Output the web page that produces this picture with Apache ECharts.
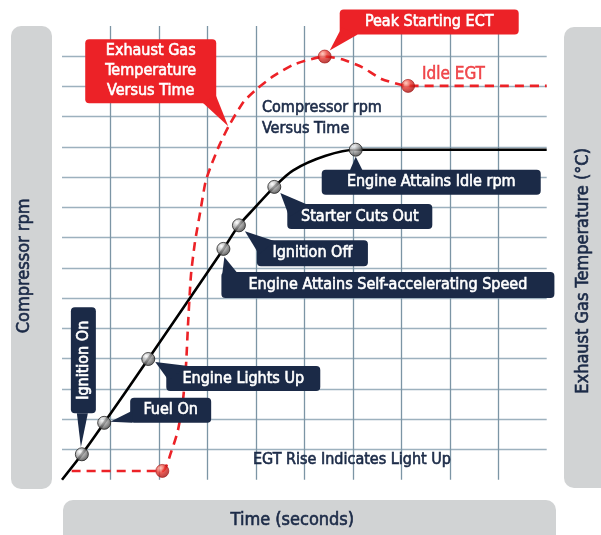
<!DOCTYPE html>
<html>
<head>
<meta charset="utf-8">
<script src="https://cdn.jsdelivr.net/npm/echarts@6/dist/echarts.min.js"></script>
<style>
  html, body { margin: 0; padding: 0; background: #fff; }
  #chart { width: 601px; height: 535px; }
</style>
</head>
<body>
<div id="chart"></div>
<script>
// compressor rpm versus time (grid units)
const rpmTime  = [0, 0.41, 0.87, 1.78, 3.33, 3.65, 3.96, 4.38, 4.77, 5.44, 6.06, 10];
const rpmValue = [0, 0.84, 1.88, 3.99, 7.63, 8.41, 8.96, 9.68, 10.23, 10.71, 10.91, 10.91];

// exhaust gas temperature versus time (grid units)
const egtTime  = [0.2, 2.07, 2.25, 2.39, 2.49, 2.56, 2.60, 2.66, 2.74, 2.86, 2.96, 3.06, 3.25, 3.45, 3.75, 4.02, 4.36, 4.79, 5.42, 5.78, 6.19, 6.59, 7.14, 10];
const egtValue = [0.29, 0.29, 0.91, 1.62, 2.53, 3.83, 5.13, 6.75, 7.82, 8.93, 9.84, 10.32, 11.07, 11.72, 12.50, 12.92, 13.34, 13.73, 13.99, 13.90, 13.64, 13.25, 13.02, 13.02];

// events marked on the rpm curve
const rpmEventNames = ['Ignition On', 'Fuel On', 'Engine Lights Up', 'Engine Attains Self-accelerating Speed',
  'Ignition Off', 'Starter Cuts Out', 'Engine Attains Idle rpm'];
const rpmEventTime  = [0.41, 0.87, 1.78, 3.33, 3.65, 4.38, 6.06];
const rpmEventValue = [0.84, 1.88, 3.99, 7.63, 8.41, 9.68, 10.91];

// events marked on the EGT curve
const egtEventNames = ['Light Up', 'Peak Starting ECT', 'Idle EGT'];
const egtEventTime  = [2.07, 5.42, 7.14];
const egtEventValue = [0.29, 13.99, 13.02];

const FONT = "'Liberation Sans Narrow','DejaVu Sans Condensed','Roboto',sans-serif";
const NAVY = '#1b2a47';
const RED = '#ec2227';

// callout boxes: offsets in px from the anchor point
const callouts = [
  { text: rpmEventNames[0], at: [0.41, 0.84], box: [-11, -147, 25, 106], tail: [[-5, -41], [6, -41], [-1, -7]], vertical: true },
  { text: rpmEventNames[1], at: [0.87, 1.88], box: [26, -25, 81, 25], tail: [[28, -12], [6, -1], [28, 0]] },
  { text: rpmEventNames[2], at: [1.78, 3.99], box: [18, 7, 154, 25], tail: [[7, 3], [40, 7], [20, 21]] },
  { text: rpmEventNames[3], at: [3.33, 7.63], box: [-2, 23, 333, 26], tail: [[1, 8], [-1, 24], [14, 24]] },
  { text: rpmEventNames[4], at: [3.65, 8.41], box: [18, 15, 111, 26], tail: [[6, 6], [36, 16], [20, 29]] },
  { text: rpmEventNames[5], at: [4.38, 9.68], box: [13, 17, 145, 25], tail: [[6, 6], [34, 18], [15, 30]] },
  { text: rpmEventNames[6], at: [6.06, 10.91], box: [-34, 20, 219, 25], tail: [[0, 7], [-6, 21], [7, 21]] },
  { text: egtEventNames[1], at: [5.42, 13.99], box: [15, -47, 179, 25], tail: [[5, -6], [17, -29], [33, -22]], red: true },
  { text: 'Exhaust Gas\nTemperature\nVersus Time', at: [3.45, 11.72], box: [-144, -86, 131, 64], tail: [[-27, -23], [-13, -29], [-1, 1]], red: true }
];

const zip = (a, b) => a.map((v, i) => [v, b[i]]);

const grayBall = new echarts.graphic.RadialGradient(0.35, 0.3, 0.75, [
  { offset: 0, color: '#ffffff' }, { offset: 0.45, color: '#a5a5a5' }, { offset: 1, color: '#333333' }]);
const redBall = new echarts.graphic.RadialGradient(0.35, 0.3, 0.75, [
  { offset: 0, color: '#ffc0b0' }, { offset: 0.45, color: '#e8342c' }, { offset: 1, color: '#9a0e0e' }]);

const chart = echarts.init(document.getElementById('chart'));

const valueAxis = (lineColor) => ({
  type: 'value', min: 0, interval: 1,
  axisLine: { show: false }, axisTick: { show: false }, axisLabel: { show: false },
  splitLine: { show: true, showMinLine: false, showMaxLine: false, lineStyle: { color: lineColor, width: 1.3 } }
});

const nameStyle = (pad) => ({
  fontFamily: FONT, fontSize: 18, color: NAVY, padding: pad, textBorderColor: NAVY, textBorderWidth: 0.6
});

chart.setOption({
  animation: false,
  backgroundColor: '#fff',
  grid: { left: 62, right: 46, top: 26, bottom: 47 },
  xAxis: Object.assign(valueAxis('#7c95a5'), {
    max: 10,
    name: 'Time (seconds)', nameLocation: 'middle', nameGap: 32,
    nameTextStyle: nameStyle([0, 24, 0, 0])
  }),
  yAxis: [
    Object.assign(valueAxis('#9db1be'), {
      max: 15,
      name: 'Compressor rpm', nameLocation: 'middle', nameGap: 29,
      nameTextStyle: nameStyle([0, 26, 0, 0])
    }),
    {
      type: 'value', min: 0, max: 15, position: 'right',
      axisLine: { show: false }, axisTick: { show: false }, axisLabel: { show: false }, splitLine: { show: false },
      name: 'Exhaust Gas Temperature (°C)', nameLocation: 'middle', nameGap: 28,
      nameTextStyle: nameStyle([0, 36, 0, 0])
    }
  ],
  series: [
    {
      name: 'Compressor rpm Versus Time', type: 'line', data: zip(rpmTime, rpmValue),
      smooth: 0.3, showSymbol: false, lineStyle: { color: '#000', width: 2.6 }, z: 3
    },
    {
      name: 'Exhaust Gas Temperature Versus Time', type: 'line', yAxisIndex: 1, data: zip(egtTime, egtValue),
      smooth: 0.2, showSymbol: false, lineStyle: { color: RED, width: 2.6, type: [9, 6] }, z: 3
    },
    {
      name: 'rpm events', type: 'scatter', data: zip(rpmEventTime, rpmEventValue), symbolSize: 13,
      itemStyle: { color: grayBall, borderColor: '#222', borderWidth: 1 }, z: 10
    },
    {
      name: 'EGT events', type: 'scatter', yAxisIndex: 1, data: zip(egtEventTime, egtEventValue), symbolSize: 13,
      itemStyle: { color: redBall, borderColor: '#a01010', borderWidth: 0.8 }, z: 10,
      label: {
        show: true, position: 'right', distance: 7, offset: [0, -11], fontFamily: FONT, fontSize: 17, color: RED,
        textBorderColor: RED, textBorderWidth: 0.5,
        formatter: (p) => p.dataIndex === 2 ? egtEventNames[2] : ''
      }
    }
  ]
});

// panels, callouts and free text
const txt = (color, size) => ({ font: size + 'px ' + FONT, fill: color, stroke: color, lineWidth: 0.6 });
const graphics = [
  { type: 'rect', z: -10, shape: { x: 11, y: 26, width: 41, height: 463, r: 10 }, style: { fill: '#d1d3d4' } },
  { type: 'rect', z: -10, shape: { x: 564, y: 27, width: 60, height: 461, r: 10 }, style: { fill: '#d1d3d4' } },
  { type: 'rect', z: -10, shape: { x: 63, y: 500, width: 493, height: 60, r: 10 }, style: { fill: '#d1d3d4' } },
  { type: 'text', z: 20, x: 262, y: 97, style: Object.assign(txt(NAVY, 16), { text: 'Compressor rpm\nVersus Time', lineHeight: 21 }) },
  { type: 'text', z: 20, x: 253, y: 452, style: Object.assign(txt(NAVY, 16), { text: 'EGT Rise Indicates Light Up' }) }
];

callouts.forEach((c) => {
  const p = chart.convertToPixel({ xAxisIndex: 0, yAxisIndex: 0 }, c.at);
  const fill = c.red ? RED : NAVY;
  const [dx, dy, w, h] = c.box;
  graphics.push({ type: 'rect', z: 5, shape: { x: p[0] + dx, y: p[1] + dy, width: w, height: h, r: 4 }, style: { fill } });
  graphics.push({ type: 'polygon', z: 5, shape: { points: c.tail.map((t) => [p[0] + t[0], p[1] + t[1]]) }, style: { fill } });
  graphics.push({
    type: 'text', z: 6, x: p[0] + dx + w / 2, y: p[1] + dy + h / 2, rotation: c.vertical ? Math.PI / 2 : 0,
    style: Object.assign(txt('#fff', 16), { text: c.text, align: 'center', verticalAlign: 'middle', lineHeight: 20 })
  });
});

chart.setOption({ graphic: { elements: graphics } });
</script>
</body>
</html>
